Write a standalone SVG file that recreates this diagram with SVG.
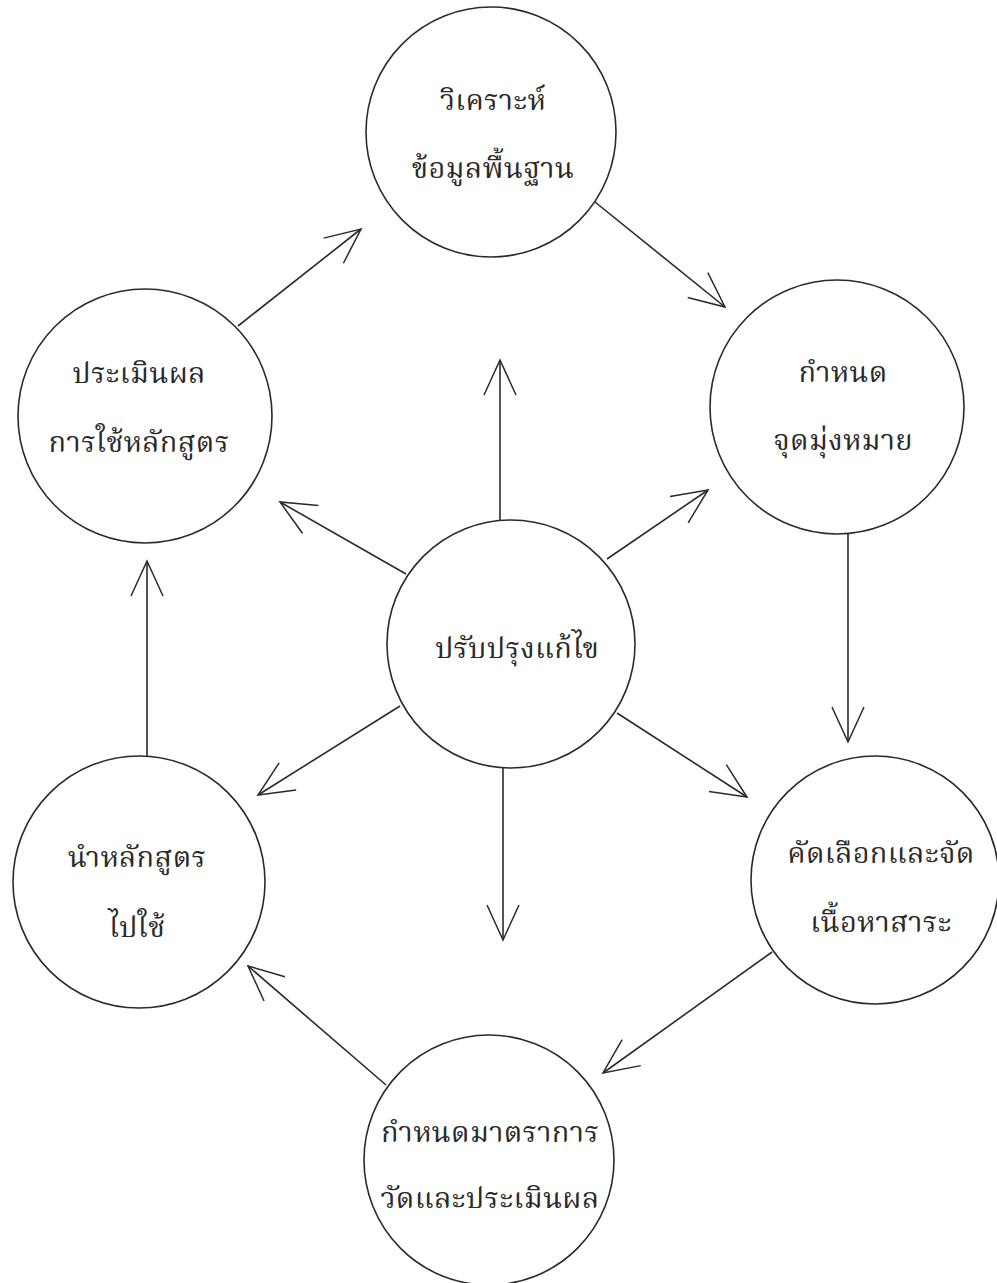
<svg xmlns="http://www.w3.org/2000/svg" width="997" height="1283" viewBox="0 0 997 1283">
  <style>
    .node circle { fill: #ffffff; stroke: #2a2a2a; stroke-width: 1.6; }
    .node text { font-family: "Tlwg Typist", "Norasi", "Noto Serif Thai", "Loma", "Noto Sans Thai", "DejaVu Sans", sans-serif; font-size: 29px; letter-spacing: 0.3px; fill: #2a2a2a; text-anchor: middle; }
    .edge { stroke: #2a2a2a; stroke-width: 1.6; fill: none; marker-end: url(#vhead); }
  </style>
  <defs>
    <marker id="vhead" markerUnits="userSpaceOnUse" markerWidth="40" markerHeight="40" viewBox="-38 -20 40 40" refX="0" refY="0" orient="auto">
      <path d="M-35,-16 L0,0 L-35,16" fill="none" stroke="#2a2a2a" stroke-width="1.5"/>
    </marker>
  </defs>
  <rect width="997" height="1283" fill="#ffffff"/>

  <!-- connectors -->
  <g id="connectors">
    <!-- outer cycle -->
    <line class="edge" x1="238" y1="326" x2="361" y2="229"/>
    <line class="edge" x1="595" y1="202" x2="725" y2="307"/>
    <line class="edge" x1="848" y1="530" x2="848" y2="742"/>
    <line class="edge" x1="772" y1="952" x2="603" y2="1073"/>
    <line class="edge" x1="386" y1="1085" x2="248" y2="966"/>
    <line class="edge" x1="147" y1="757" x2="147" y2="561"/>
    <!-- spokes from the centre node -->
    <line class="edge" x1="500" y1="521" x2="500" y2="360"/>
    <line class="edge" x1="607" y1="559" x2="708" y2="490"/>
    <line class="edge" x1="406" y1="574" x2="280" y2="502"/>
    <line class="edge" x1="400" y1="706" x2="258" y2="795"/>
    <line class="edge" x1="503" y1="768" x2="503" y2="940"/>
    <line class="edge" x1="617" y1="713" x2="747" y2="797"/>
  </g>

  <!-- nodes -->
  <g id="node-analyse" class="node">
    <circle cx="491" cy="132" r="125"/>
    <text x="493" y="110">วิเคราะห์</text>
    <text x="493" y="178">ข้อมูลพื้นฐาน</text>
  </g>
  <g id="node-goals" class="node">
    <circle cx="837" cy="407" r="127"/>
    <text x="843" y="382">กำหนด</text>
    <text x="843" y="450">จุดมุ่งหมาย</text>
  </g>
  <g id="node-content" class="node">
    <circle cx="875" cy="880" r="124"/>
    <text x="881" y="863">คัดเลือกและจัด</text>
    <text x="881" y="932">เนื้อหาสาระ</text>
  </g>
  <g id="node-measure" class="node">
    <circle cx="489" cy="1160" r="125"/>
    <text x="490" y="1142">กำหนดมาตราการ</text>
    <text x="490" y="1208">วัดและประเมินผล</text>
  </g>
  <g id="node-implement" class="node">
    <circle cx="139" cy="882" r="126"/>
    <text x="137" y="867">นำหลักสูตร</text>
    <text x="137" y="937">ไปใช้</text>
  </g>
  <g id="node-evaluate" class="node">
    <circle cx="145" cy="416" r="127"/>
    <text x="139" y="383">ประเมินผล</text>
    <text x="139" y="452">การใช้หลักสูตร</text>
  </g>
  <g id="node-revise" class="node">
    <circle cx="511" cy="644" r="124"/>
    <text x="517" y="658">ปรับปรุงแก้ไข</text>
  </g>
</svg>
